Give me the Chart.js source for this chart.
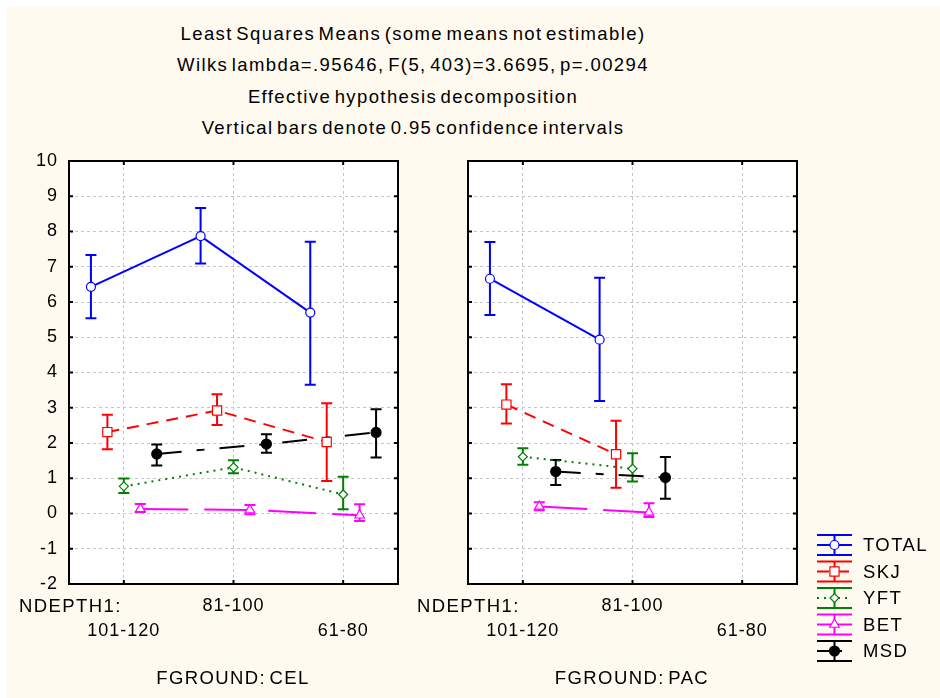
<!DOCTYPE html>
<html>
<head>
<meta charset="utf-8">
<script src="https://cdn.jsdelivr.net/npm/chart.js@4.4.0/dist/chart.umd.min.js"></script>
<style>
  body { margin: 0; background: #fff; font-family: "Liberation Sans", Arial, sans-serif; }
  #page { position: absolute; left: 7px; top: 7px; width: 933px; height: 691px; background: #fffaef; }
  canvas { position: absolute; }
  .txt { position: absolute; white-space: nowrap; color: #000; font-size: 18.5px; line-height: 20px; letter-spacing: 1.4px; word-spacing: -3px; }
  .title { left: 0; width: 826px; text-align: center; }
  .foot { width: 300px; text-align: center; }
</style>
</head>
<body>
<div id="page"></div>
<div class="txt title" style="top:24px">Least Squares Means (some means not estimable)</div>
<div class="txt title" style="top:55px">Wilks lambda=.95646, F(5, 403)=3.6695, p=.00294</div>
<div class="txt title" style="top:87px">Effective hypothesis decomposition</div>
<div class="txt title" style="top:118px">Vertical bars denote 0.95 confidence intervals</div>

<canvas id="celChart" width="410" height="548" style="left:0;top:150px"></canvas>
<canvas id="pacChart" width="520" height="548" style="left:420px;top:150px"></canvas>

<div class="txt" style="left:19px;top:596px">NDEPTH1:</div>
<div class="txt" style="left:417px;top:596px">NDEPTH1:</div>
<div class="txt foot" style="left:83px;top:668px">FGROUND: CEL</div>
<div class="txt foot" style="left:482px;top:668px">FGROUND: PAC</div>

<script>
Chart.defaults.font.family = '"Liberation Sans", Arial, sans-serif';
Chart.defaults.color = '#000';

const depthCats = ['101-120', '81-100', '61-80'];
const seriesNames = ['TOTAL', 'SKJ', 'YFT', 'BET', 'MSD'];

// FGROUND: CEL  (mean, [lower, upper] 0.95 CI)
const celTotal = [6.43, 7.87, 5.70];
const celTotalCI = [[5.54, 7.33], [7.09, 8.67], [3.65, 7.71]];
const celSkj = [2.31, 2.92, 2.03];
const celSkjCI = [[1.82, 2.80], [2.51, 3.38], [0.92, 3.13]];
const celYft = [0.77, 1.31, 0.54];
const celYftCI = [[0.58, 0.99], [1.14, 1.51], [0.12, 1.04]];
const celBet = [0.13, 0.10, -0.05];
const celBetCI = [[0.04, 0.27], [-0.02, 0.24], [-0.21, 0.26]];
const celMsd = [1.69, 1.97, 2.30];
const celMsdCI = [[1.36, 1.96], [1.72, 2.25], [1.59, 2.96]];

// FGROUND: PAC  (61-80 not estimable)
const pacTotal = [6.66, 4.93, null];
const pacTotalCI = [[5.63, 7.70], [3.19, 6.69], null];
const pacSkj = [3.09, 1.68, null];
const pacSkjCI = [[2.55, 3.67], [0.73, 2.63], null];
const pacYft = [1.61, 1.27, null];
const pacYftCI = [[1.38, 1.85], [0.91, 1.71], null];
const pacBet = [0.20, 0.03, null];
const pacBetCI = [[0.09, 0.32], [-0.10, 0.29], null];
const pacMsd = [1.19, 1.02, null];
const pacMsdCI = [[0.81, 1.52], [0.42, 1.60], null];

// look of each series
const seriesStyle = [
  { color: '#0000ff', dash: [], point: 'circle', radius: 4.5, fill: '#ffffff' },
  { color: '#ff0000', dash: [12, 8], point: 'rect', radius: 6.5, fill: '#ffffff' },
  { color: '#008000', dash: [2, 5], point: 'rectRot', radius: 4.5, fill: '#ffffff' },
  { color: '#ff00ff', dash: [48, 16], point: 'triangle', radius: 5.5, fill: '#ffffff' },
  { color: '#000000', dash: [25, 15, 8, 15], point: 'circle', radius: 5, fill: '#000000' }
];
const seriesOffset = [-0.3, -0.15, 0, 0.15, 0.3]; // horizontal shift of each series inside a category

function makeDatasets(means, cis) {
  return seriesNames.map((name, s) => ({
    label: name,
    data: means[s]
      .map((v, i) => v === null ? null : { x: i + seriesOffset[s], y: v, lo: cis[s][i][0], hi: cis[s][i][1] })
      .filter(p => p),
    borderColor: seriesStyle[s].color,
    backgroundColor: seriesStyle[s].fill,
    borderDash: seriesStyle[s].dash,
    borderWidth: 2,
    pointStyle: seriesStyle[s].point,
    pointRadius: seriesStyle[s].radius,
    pointBackgroundColor: seriesStyle[s].fill,
    pointBorderColor: seriesStyle[s].color,
    pointBorderWidth: 1.2,
    tension: 0,
    fill: false
  }));
}

// vertical confidence bars, drawn under the lines/markers
const errorBars = {
  id: 'errorBars',
  beforeDatasetsDraw(chart) {
    const ctx = chart.ctx, ys = chart.scales.y;
    chart.data.datasets.forEach((ds, di) => {
      const meta = chart.getDatasetMeta(di);
      ctx.save();
      ctx.strokeStyle = ds.borderColor;
      ctx.lineWidth = 2;
      ctx.setLineDash([]);
      ctx.beginPath();
      meta.data.forEach((pt, i) => {
        const top = ys.getPixelForValue(ds.data[i].hi);
        const bot = ys.getPixelForValue(ds.data[i].lo);
        ctx.moveTo(pt.x, top); ctx.lineTo(pt.x, bot);
        ctx.moveTo(pt.x - 5.5, top); ctx.lineTo(pt.x + 5.5, top);
        ctx.moveTo(pt.x - 5.5, bot); ctx.lineTo(pt.x + 5.5, bot);
      });
      ctx.stroke();
      ctx.restore();
    });
  }
};

// white plot area + black frame with inward ticks
const frame = {
  id: 'frame',
  beforeDraw(chart) {
    const a = chart.chartArea, c = chart.ctx;
    c.save();
    c.fillStyle = '#ffffff';
    c.fillRect(a.left, a.top, a.right - a.left, a.bottom - a.top);
    c.restore();
    c.letterSpacing = '1px';
  },
  afterDraw(chart) {
    const a = chart.chartArea, c = chart.ctx;
    c.save();
    c.strokeStyle = '#000';
    c.lineWidth = 2;
    c.setLineDash([]);
    c.strokeRect(a.left, a.top, a.right - a.left, a.bottom - a.top);
    c.beginPath();
    chart.scales.y.ticks.forEach(t => {
      const py = chart.scales.y.getPixelForValue(t.value);
      c.moveTo(a.left, py); c.lineTo(a.left + 4, py);
      c.moveTo(a.right, py); c.lineTo(a.right - 4, py);
    });
    chart.scales.x.ticks.forEach(t => {
      const px = chart.scales.x.getPixelForValue(t.value);
      c.moveTo(px, a.top); c.lineTo(px, a.top + 4);
      c.moveTo(px, a.bottom); c.lineTo(px, a.bottom - 4);
    });
    c.stroke();
    c.restore();
  }
};

// legend with confidence-bar symbols, right of the PAC panel
const legendBox = {
  id: 'legendBox',
  afterDraw(chart) {
    const c = chart.ctx;
    chart.data.datasets.forEach((ds, s) => {
      const st = seriesStyle[s];
      const cy = 395 + s * 26.5, x0 = 397, x1 = 432, cx = 414.5;
      c.save();
      c.strokeStyle = st.color;
      c.lineWidth = 2;
      c.setLineDash([]);
      c.beginPath();
      c.moveTo(x0, cy - 10); c.lineTo(x1, cy - 10);
      c.moveTo(x0, cy + 10); c.lineTo(x1, cy + 10);
      c.moveTo(cx, cy - 10); c.lineTo(cx, cy + 10);
      c.stroke();
      c.setLineDash(st.dash);
      c.beginPath();
      c.moveTo(x0, cy); c.lineTo(x1, cy);
      c.stroke();
      c.setLineDash([]);
      c.fillStyle = st.fill;
      c.lineWidth = 1.2;
      Chart.helpers.drawPoint(c, { pointStyle: st.point, radius: st.radius, borderWidth: 1.2, rotation: 0 }, cx, cy);
      c.fillStyle = '#000';
      c.font = '18.5px "Liberation Sans", Arial, sans-serif';
      c.letterSpacing = '1.4px';
      c.textBaseline = 'middle';
      c.textAlign = 'left';
      c.fillText(ds.label, 443, cy + 1);
      c.restore();
    });
  }
};

// keep tick labels from pushing the plot area around
function noScalePadding(sc) {
  sc.paddingTop = 0;
  sc.paddingBottom = 0;
  sc.paddingLeft = 0;
  sc.paddingRight = 0;
}

function panelOptions(showY, yWidth, padRight) {
  return {
    responsive: false,
    animation: false,
    layout: { padding: { top: 11, right: padRight, left: 0, bottom: 0 } },
    plugins: { legend: { display: false }, tooltip: { enabled: false } },
    scales: {
      x: {
        type: 'linear',
        min: -0.5,
        max: 2.5,
        afterBuildTicks: sc => { sc.ticks = depthCats.map((c, i) => ({ value: i })); },
        afterFit: sc => { sc.height = 114; noScalePadding(sc); },
        ticks: {
          autoSkip: false,
          maxRotation: 0,
          padding: 10,
          font: { size: 18, lineHeight: '25px' },
          callback: v => {
            const i = Math.round(v);
            return i % 2 === 0 ? ['', depthCats[i]] : [depthCats[i], ''];
          }
        },
        grid: { color: '#c6c6c6', drawTicks: false, lineWidth: 1 },
        border: { display: false, dash: [3, 3] }
      },
      y: {
        min: -2,
        max: 10,
        afterFit: sc => { sc.width = yWidth; noScalePadding(sc); },
        ticks: { display: showY, stepSize: 1, padding: 11, font: { size: 18 } },
        grid: { color: '#c6c6c6', drawTicks: false, lineWidth: 1 },
        border: { display: false, dash: [3, 3] }
      }
    }
  };
}

new Chart(document.getElementById('celChart').getContext('2d'), {
  type: 'line',
  data: {
    datasets: makeDatasets(
      [celTotal, celSkj, celYft, celBet, celMsd],
      [celTotalCI, celSkjCI, celYftCI, celBetCI, celMsdCI])
  },
  options: panelOptions(true, 69, 12),
  plugins: [frame, errorBars]
});

new Chart(document.getElementById('pacChart').getContext('2d'), {
  type: 'line',
  data: {
    datasets: makeDatasets(
      [pacTotal, pacSkj, pacYft, pacBet, pacMsd],
      [pacTotalCI, pacSkjCI, pacYftCI, pacBetCI, pacMsdCI])
  },
  options: panelOptions(false, 48, 143),
  plugins: [frame, errorBars, legendBox]
});
</script>
</body>
</html>
